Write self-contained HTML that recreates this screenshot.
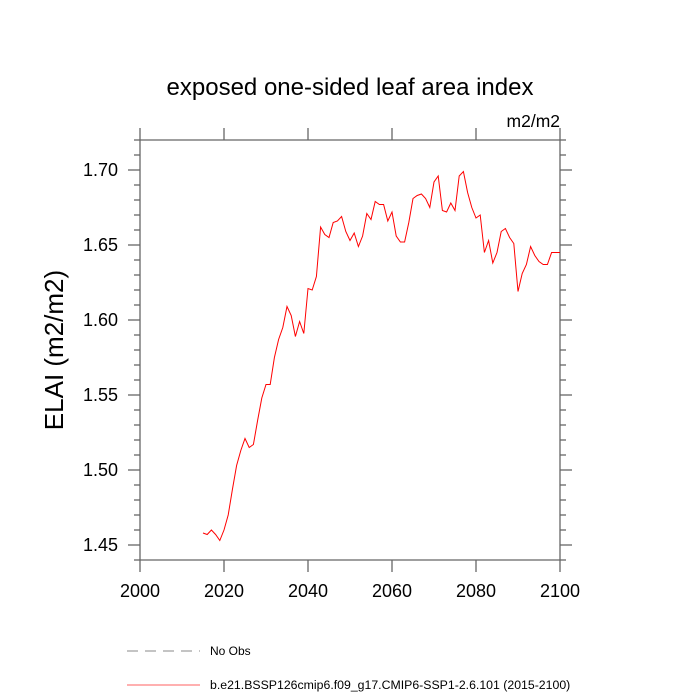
<!DOCTYPE html>
<html><head><meta charset="utf-8"><style>
body{margin:0;background:#fff}
svg{display:block;font-family:"Liberation Sans",sans-serif}
</style></head><body>
<svg id="c" width="700" height="700">
<text x="350" y="95" font-size="24" text-anchor="middle">exposed one-sided leaf area index</text>
<text x="560" y="127" font-size="17.5" text-anchor="end">m2/m2</text>
<text transform="translate(63,350) rotate(-90)" font-size="26" text-anchor="middle">ELAI  (m2/m2)</text>
<g id="axes"></g>
<path id="line" fill="none" stroke="#ff0000" stroke-width="1"/>
<line x1="127" y1="651" x2="200" y2="651" stroke="#888" stroke-dasharray="11,7"/>
<text x="210" y="655" font-size="12">No Obs</text>
<line x1="127" y1="685" x2="200" y2="685" stroke="#ff6060"/>
<text x="210" y="689" font-size="12.3">b.e21.BSSP126cmip6.f09_g17.CMIP6-SSP1-2.6.101 (2015-2100)</text>
</svg>
<script>
const startYear = 2015;
const values = [1.458,1.457,1.460,1.457,1.453,1.460,1.470,1.487,1.503,1.513,1.521,1.515,1.517,1.533,1.548,1.557,1.557,1.575,1.587,1.595,1.609,1.603,1.589,1.599,1.591,1.621,1.620,1.629,1.662,1.657,1.655,1.665,1.666,1.669,1.659,1.653,1.658,1.649,1.656,1.671,1.667,1.679,1.677,1.677,1.666,1.672,1.656,1.652,1.652,1.665,1.681,1.683,1.684,1.681,1.675,1.692,1.696,1.673,1.672,1.678,1.673,1.696,1.699,1.685,1.675,1.668,1.670,1.645,1.653,1.638,1.645,1.659,1.661,1.655,1.651,1.619,1.631,1.637,1.649,1.643,1.639,1.637,1.637,1.645,1.645,1.645];
const xTicks = [2000,2020,2040,2060,2080,2100];
const yTicks = [1.45,1.50,1.55,1.60,1.65,1.70];
const L=140,R=560,T=140,B=560,x0=2000,x1=2100,y0=1.44,y1=1.72;
const X=v=>L+(v-x0)/(x1-x0)*(R-L);
const Y=v=>B-(v-y0)/(y1-y0)*(B-T);
const NS='http://www.w3.org/2000/svg';
const g=document.getElementById('axes');
const col='#666';
function ln(a,b,c,d,name){const e=document.createElementNS(NS,'line');e.setAttribute('x1',a);e.setAttribute('y1',b);e.setAttribute('x2',c);e.setAttribute('y2',d);e.setAttribute('stroke',col);e.setAttribute('stroke-width','1.3');


g.appendChild(e);}
function tx(x,y,s,anchor,name){const e=document.createElementNS(NS,'text');e.setAttribute('x',x);e.setAttribute('y',y);e.setAttribute('font-size','18');e.setAttribute('text-anchor',anchor);e.textContent=s;


g.appendChild(e);}
ln(L,T,R,T,'plot-frame-top');ln(L,B,R,B,'plot-frame-bottom');ln(L,T,L,B,'plot-frame-left');ln(R,T,R,B,'plot-frame-right');
for(let v=y0;v<=y1+1e-9;v+=0.01){const y=Y(v);const maj=yTicks.some(t=>Math.abs(t-v)<1e-6);const len=maj?12:6;
ln(L-len,y,L,y,'y-tick');ln(R,y,R+len,y,'y-tick-right');}
yTicks.forEach(t=>tx(L-22,Y(t)+6,t.toFixed(2),'end','y-tick-label'));
xTicks.forEach(t=>{const x=X(t);ln(x,B,x,B+12,'x-tick');ln(x,T-12,x,T,'x-tick-top');tx(x,B+37,String(t),'middle','x-tick-label');});
document.getElementById('line').setAttribute('d',values.map((v,i)=>(i?'L':'M')+X(startYear+i).toFixed(1)+','+Y(v).toFixed(1)).join(''));
</script>
</body></html>
